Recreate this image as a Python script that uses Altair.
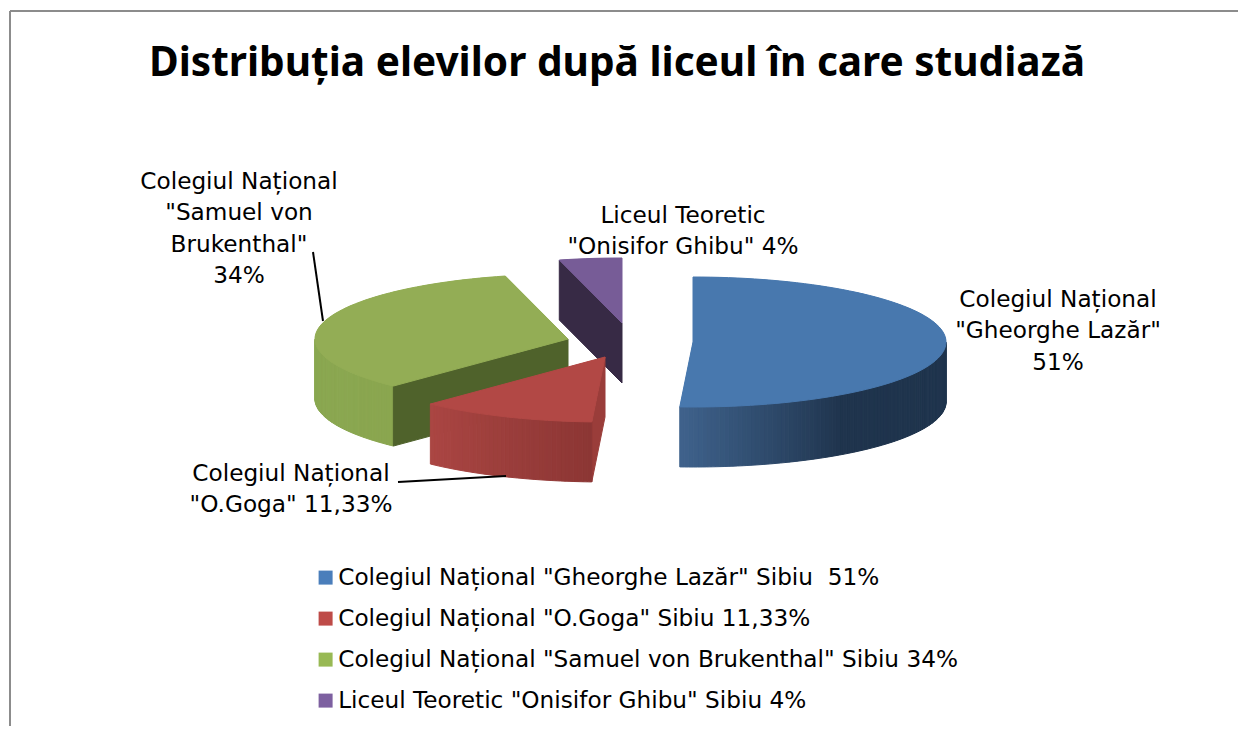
import math
import altair as alt

FONT = "DejaVu Sans"
TITLE_FONT = "Noto Sans"
TITLE = "Distribuția elevilor după liceul în care studiază"
categories = [
    'Colegiul Național "Gheorghe Lazăr" Sibiu \u00a051%',
    'Colegiul Național "O.Goga" Sibiu 11,33%',
    'Colegiul Național "Samuel von Brukenthal" Sibiu 34%',
    'Liceul Teoretic "Onisifor Ghibu" Sibiu 4%',
]
shares = [51, 11.33, 34, 4]
legend_colors = ["#4a7ebb", "#be4b48", "#98b954", "#7d60a0"]
top_colors = ["#4878ae", "#b24845", "#93ad55", "#775c97"]

O = 8          # page margin
A, B, D = 253, 65, 60
apex = [(693, 342), (605, 357), (568, 339), (622, 323)]

total = sum(shares)
starts = [sum(shares[:i]) / total * 360 for i in range(4)]
ends = [sum(shares[:i + 1]) / total * 360 for i in range(4)]


def pt(i, t, drop=0):
    r = math.radians(t)
    cx, cy = apex[i]
    return [cx + A * math.sin(r) - O, cy - B * math.cos(r) + drop - O]


def feature(ring, **props):
    ring = ring + [ring[0]]
    return {"type": "Feature", "properties": props,
            "geometry": {"type": "Polygon", "coordinates": [ring]}}


def frange(a, b, step):
    n = max(1, int(abs(b - a) / step))
    return [a + (b - a) * k / n for k in range(n + 1)]


def top(i, **props):
    cx, cy = apex[i]
    ring = [[cx - O, cy - O]] + [pt(i, t) for t in frange(starts[i], ends[i], 2)]
    return feature(ring, **props)


def mix(c1, c2, f):
    f = max(0, min(1, f))
    a = [int(c1[j:j + 2], 16) for j in (1, 3, 5)]
    b = [int(c2[j:j + 2], 16) for j in (1, 3, 5)]
    return "#%02x%02x%02x" % tuple(round(x + (y - x) * f) for x, y in zip(a, b))


def strips(i, t0, t1, color_at):
    out = []
    ts = frange(t0, t1, 1)
    for u, v in zip(ts, ts[1:]):
        ring = [pt(i, u), pt(i, v), pt(i, v, D), pt(i, u, D)]
        out.append(feature(ring, fill=color_at((u + v) / 2)))
    return out


def radial(i, t, color):
    cx, cy = apex[i]
    ring = [[cx - O, cy - O], pt(i, t), pt(i, t, D), [cx - O, cy - O + D]]
    return feature(ring, fill=color)


scene = []
# purple
scene.append(radial(3, starts[3], "#372a45"))
scene.append(top(3, fill=top_colors[3]))
# green
scene += strips(2, starts[2], 270, lambda t: mix("#8aa64f", "#8aa851", (t - 224) / 46))
scene.append(radial(2, starts[2], "#4f622b"))
scene.append(top(2, fill=top_colors[2]))
# red
scene.append(radial(1, starts[1], "#9a3d3a"))
scene += strips(1, starts[1], ends[1], lambda t: mix("#8c3634", "#ab4643", (t - 183) / 41))
scene.append(top(1, fill=top_colors[1]))
# blue
scene += strips(0, 90, ends[0], lambda t: mix("#1f344d", "#3f628c", (t - 144) / 39))
scene.append(top(0, fill=top_colors[0]))

proj = dict(type="identity", scale=1, translate=[0, 0])

legend_features = [top(i, name=categories[i]) for i in range(4)]
legend_layer = (
    alt.Chart(alt.Data(values=legend_features))
    .mark_geoshape(strokeWidth=0)
    .encode(color=alt.Color(
        "properties.name:N",
        scale=alt.Scale(domain=categories, range=legend_colors),
        legend=alt.Legend(title=None, orient="none", legendX=306, legendY=558,
                          symbolType="square", symbolSize=196, symbolStrokeWidth=0,
                          labelFont=FONT, labelFontSize=23.2, labelColor="#000000",
                          labelLimit=900, labelOffset=1, rowPadding=17),
    ))
    .project(**proj)
)

scene_layer = (
    alt.Chart(alt.Data(values=scene))
    .mark_geoshape(strokeWidth=1)
    .encode(fill=alt.Fill("properties.fill:N", scale=None),
            stroke=alt.Stroke("properties.fill:N", scale=None))
    .project(**proj)
)


def label(text, cx, ytop):
    return (
        alt.Chart(alt.Data(values=[{"t": text}]))
        .mark_text(font=FONT, fontSize=23.2, color="#000000", align="center",
                   baseline="top", lineBreak="\n", lineHeight=31.3)
        .encode(text="t:N", x=alt.value(cx - O), y=alt.value(ytop - O))
    )


def segment(x1, y1, x2, y2, color="#000000", width=2):
    return (
        alt.Chart(alt.Data(values=[{"a": 0}]))
        .mark_rule(color=color, strokeWidth=width)
        .encode(x=alt.value(x1 - O), y=alt.value(y1 - O),
                x2=alt.value(x2 - O), y2=alt.value(y2 - O))
    )


labels = [
    label('Colegiul Național\n"Samuel von\nBrukenthal"\n34%', 239, 171),
    label('Liceul Teoretic\n"Onisifor Ghibu" 4%', 683, 205),
    label('Colegiul Național\n"Gheorghe Lazăr"\n51%', 1058, 289),
    label('Colegiul Național\n"O.Goga" 11,33%', 291, 463),
]
rules = [
    segment(313, 252, 323, 321),
    segment(398, 482, 506, 476),
    segment(10, 11, 1246, 11, "#8c8c8c", 2),
    segment(10, 11, 10, 734, "#8c8c8c", 2),
]

chart = (
    alt.layer(legend_layer, scene_layer, *rules, *labels)
    .properties(
        width=1230, height=718, padding=0,
        autosize=alt.AutoSizeParams(type="none"),
        title=alt.TitleParams(TITLE, anchor="start", frame="group", dx=141, offset=-77,
                              font=TITLE_FONT, fontSize=40.6, fontWeight="bold", color="#000000"),
    )
    .configure_view(stroke=None)
)
chart.save("out.html", embed_options={"renderer": "svg", "actions": False})
